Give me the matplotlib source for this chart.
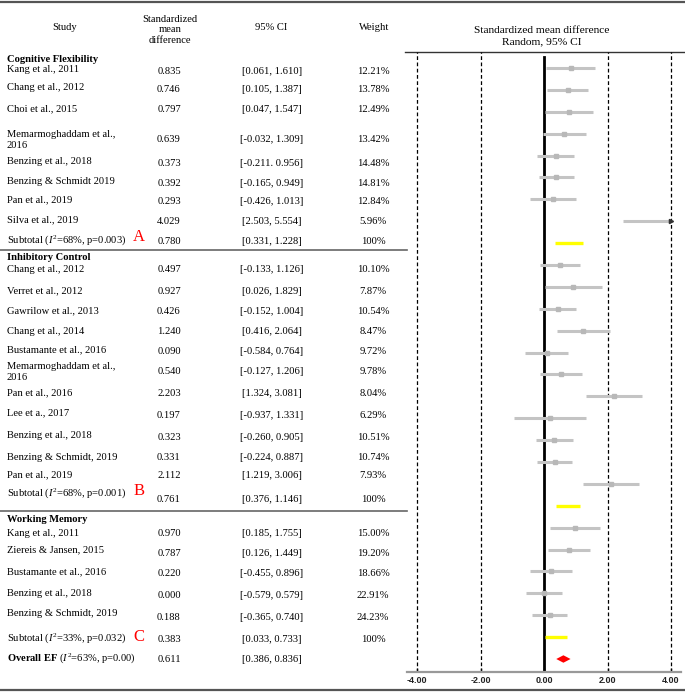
import matplotlib
matplotlib.use("Agg")
import matplotlib.pyplot as plt

plt.rcParams['font.family'] = 'Liberation Serif'
plt.rcParams['mathtext.fontset'] = 'custom'
plt.rcParams['mathtext.rm'] = 'Liberation Serif'
plt.rcParams['mathtext.it'] = 'Liberation Serif:italic'
plt.rcParams['mathtext.bf'] = 'Liberation Serif:bold'

# ---- data ----
cf_names = ["Kang et al., 2011", "Chang et al., 2012", "Choi et al., 2015",
            "Memarmoghaddam et al.,\n2016", "Benzing et al., 2018",
            "Benzing & Schmidt 2019", "Pan et al., 2019", "Silva et al., 2019"]
cf_smd = [0.835, 0.746, 0.797, 0.639, 0.373, 0.392, 0.293, 4.029]
cf_lo = [0.061, 0.105, 0.047, -0.032, -0.211, -0.165, -0.426, 2.503]
cf_hi = [1.610, 1.387, 1.547, 1.309, 0.956, 0.949, 1.013, 5.554]
cf_w = ["12.21%", "13.78%", "12.49%", "13.42%", "14.48%", "14.81%", "12.84%", "5.96%"]

ic_names = ["Chang et al., 2012", "Verret et al., 2012", "Gawrilow et al., 2013",
            "Chang et al., 2014", "Bustamante et al., 2016",
            "Memarmoghaddam et al.,\n2016", "Pan et al., 2016", "Lee et a., 2017",
            "Benzing et al., 2018", "Benzing & Schmidt, 2019", "Pan et al., 2019"]
ic_smd = [0.497, 0.927, 0.426, 1.240, 0.090, 0.540, 2.203, 0.197, 0.323, 0.331, 2.112]
ic_lo = [-0.133, 0.026, -0.152, 0.416, -0.584, -0.127, 1.324, -0.937, -0.260, -0.224, 1.219]
ic_hi = [1.126, 1.829, 1.004, 2.064, 0.764, 1.206, 3.081, 1.331, 0.905, 0.887, 3.006]
ic_w = ["10.10%", "7.87%", "10.54%", "8.47%", "9.72%", "9.78%", "8.04%", "6.29%",
        "10.51%", "10.74%", "7.93%"]

wm_names = ["Kang et al., 2011", "Ziereis & Jansen, 2015", "Bustamante et al., 2016",
            "Benzing et al., 2018", "Benzing & Schmidt, 2019"]
wm_smd = [0.970, 0.787, 0.220, 0.000, 0.188]
wm_lo = [0.185, 0.126, -0.455, -0.579, -0.365]
wm_hi = [1.755, 1.449, 0.896, 0.579, 0.740]
wm_w = ["15.00%", "19.20%", "18.66%", "22.91%", "24.23%"]

group_titles = ["Cognitive Flexibility", "Inhibitory Control", "Working Memory"]
sub_labels = ["Subtotal ($I^2$=68%, p=0.003)", "Subtotal ($I^2$=68%, p=0.001)",
              "Subtotal ($I^2$=33%, p=0.032)"]
sub_letters = ["A", "B", "C"]
sub_smd = [0.780, 0.761, 0.383]
sub_lo = [0.331, 0.376, 0.033]
sub_hi = [1.228, 1.146, 0.733]

overall_label = r"$\mathbf{Overall\ EF}$ ($I^2$=63%, p=0.00)"
overall_smd = 0.611
overall_lo = 0.386
overall_hi = 0.836

ticks = [-4, -2, 0, 2, 4]

def ci_text(lo, hi):
    return "[%.3f, %.3f]" % (lo, hi)

# ---- build rows ----
rows = []  # (kind, name, smd, lo, hi, weight, ci string)
groups = [(cf_names, cf_smd, cf_lo, cf_hi, cf_w),
          (ic_names, ic_smd, ic_lo, ic_hi, ic_w),
          (wm_names, wm_smd, wm_lo, wm_hi, wm_w)]
for g, (names, smd, lo, hi, w) in enumerate(groups):
    for k in range(len(names)):
        rows.append(("study", names[k], smd[k], lo[k], hi[k], w[k], ci_text(lo[k], hi[k])))
    rows.append(("sub", sub_labels[g], sub_smd[g], sub_lo[g], sub_hi[g], "100%",
                 ci_text(sub_lo[g], sub_hi[g])))
rows.append(("overall", overall_label, overall_smd, overall_lo, overall_hi, "",
             ci_text(overall_lo, overall_hi)))
# the source table prints this one with a typo
rows[4] = rows[4][:6] + ("[-0.211. 0.956]",)

# ---- layout (pixels) ----
W, H = 685, 692
name_y = [70, 88, 109, 140, 162, 182, 200, 220, 240,
          270, 291, 311, 331, 350, 372, 393, 413, 435, 457, 475, 493,
          533, 550, 572, 593, 613, 638, 658]
val_y = [71, 90, 110, 139, 163, 183, 202, 222, 241,
         270, 292, 312, 332, 352, 372, 394, 415, 437, 458, 476, 499,
         534, 553, 573, 595, 617, 639, 660]
title_y = [60, 258, 519]
letter_y = [237, 491, 637]
fs = 7.6

fig = plt.figure(figsize=(W / 100, H / 100), dpi=100)
bg = fig.add_axes([0, 0, 1, 1])
bg.set_xlim(0, W)
bg.set_ylim(H, 0)
bg.axis('off')

# table lines
bg.plot([0, W], [1.5, 1.5], color='#555555', lw=1.6)
bg.plot([405, W], [51.5, 51.5], color='#333333', lw=1.0)
bg.plot([0, 407], [250, 250], color='#666666', lw=1.2)
bg.plot([0, 407], [511, 511], color='#666666', lw=1.2)
bg.plot([0, W], [690, 690], color='#555555', lw=1.6)

# headers
bg.text(65, 27, "Study", ha='center', va='center', fontsize=fs)
bg.text(170, 30, "Standardized\nmean\ndifference", ha='center', va='center',
        fontsize=fs, linespacing=1.25)
bg.text(271, 27, "95% CI", ha='center', va='center', fontsize=fs)
bg.text(374, 27, "Weight", ha='center', va='center', fontsize=fs)
bg.text(542, 36, "Standardized mean difference\nRandom, 95% CI", ha='center',
        va='center', fontsize=8.2, linespacing=1.3)

for t, y in zip(group_titles, title_y):
    bg.text(7, y, t, ha='left', va='center', fontsize=fs, fontweight='bold')

for i, r in enumerate(rows):
    kind, name, smd, lo, hi, w, ci = r
    bg.text(7, name_y[i], name, ha='left', va='center', fontsize=fs, linespacing=1.3)
    bg.text(169, val_y[i], "%.3f" % smd, ha='center', va='center', fontsize=fs)
    bg.text(272, val_y[i], ci, ha='center', va='center', fontsize=fs)
    if w:
        bg.text(373, val_y[i], w, ha='center', va='center', fontsize=fs)

for t, y in zip(sub_letters, letter_y):
    bg.text(139, y, t, ha='center', va='center', fontsize=12, color='#ff0000')

# ---- forest plot ----
px_per_unit = (671 - 417) / 8.0
x0 = 417 - 0.3 * px_per_unit
x1 = 671 + 0.3 * px_per_unit
row0, step = 68.0, (659 - 68) / 27.0
top_px, bot_px = 52, 672
ax = fig.add_axes([x0 / W, 1 - bot_px / H, (x1 - x0) / W, (bot_px - top_px) / H])
ax.set_xlim(-4.3, 4.3)
ax.set_ylim((bot_px - row0) / step, (top_px - row0) / step)
ax.patch.set_alpha(0)

for s in ['top', 'left', 'right']:
    ax.spines[s].set_visible(False)
ax.spines['bottom'].set_color('#999999')
ax.spines['bottom'].set_linewidth(1.6)
ax.set_yticks([])
ax.set_xticks(ticks)
ax.set_xticklabels(["%.2f" % t for t in ticks], fontfamily='Liberation Sans',
                   fontweight='bold', fontsize=6.5, color='#222222')
ax.tick_params(axis='x', direction='in', length=3, width=1, color='black', pad=3)

for t in [-4, -2, 2, 4]:
    ax.axvline(t, color='black', lw=0.9, ls=(0, (3, 2)))
ax.plot([0, 0], [-0.5, (bot_px - row0) / step], color='black', lw=2.0)

for i, r in enumerate(rows):
    kind, name, smd, lo, hi, w, ci = r
    if kind == "study":
        a, b = max(lo, -4), min(hi, 4)
        ax.plot([a, b], [i, i], color='#c4c4c4', lw=2.2, solid_capstyle='butt')
        if -4 <= smd <= 4:
            ax.plot(smd, i, 's', color='#b8b8b8', ms=3.2)
        if hi > 4:
            ax.plot(4, i, '>', color='#333333', ms=3)
    elif kind == "sub":
        ax.plot([lo, hi], [i, i], color='#ffff00', lw=2.4, solid_capstyle='butt')
    else:
        h = 0.17
        ax.fill([lo, smd, hi, smd], [i, i - h, i, i + h], color='#ff0000', lw=0)

fig.savefig("out.png", dpi=100)
